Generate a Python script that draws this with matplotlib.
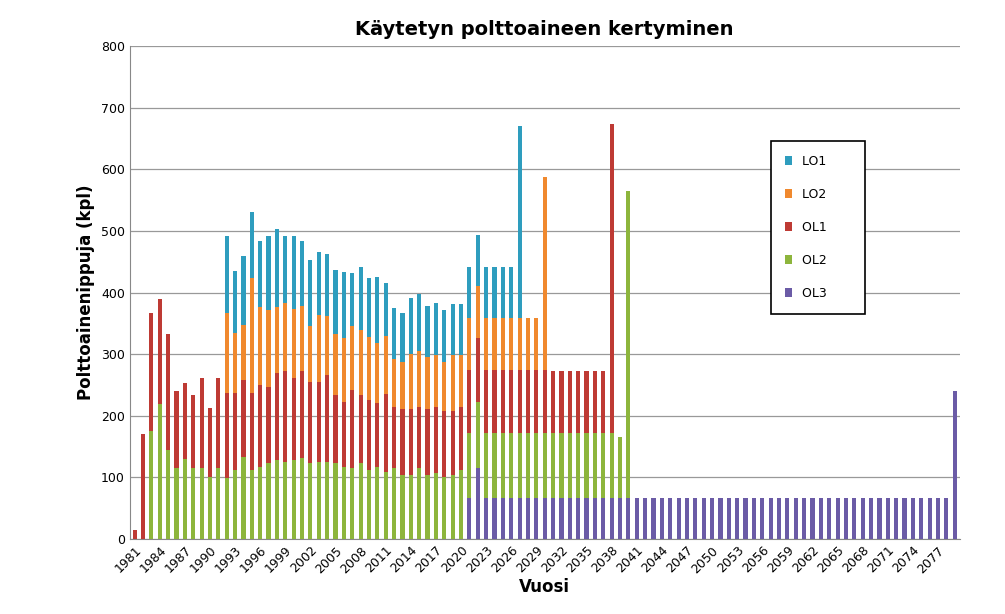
import matplotlib.pyplot as plt
import numpy as np

years = list(range(1981, 2080))

ol3 = [0]*40 + [66, 115] + [66]*56 + [240]
ol2 = [0, 0, 175, 220, 145, 115, 130, 115, 115, 100,
       115, 99, 112, 133, 112, 117, 123, 128, 125, 128,
       131, 123, 125, 125, 123, 117, 115, 123, 112, 117,
       109, 115, 104, 104, 115, 104, 107, 101, 104, 112,
       106, 108, 106, 106, 106, 106, 106, 106, 106, 106,
       106, 106, 106, 106, 106, 106, 106, 106, 100, 499] + [0]*39
ol1 = [15, 170, 192, 170, 188, 125, 123, 118, 147, 113,
       147, 138, 125, 125, 125, 133, 124, 141, 147, 133,
       141, 132, 130, 141, 111, 106, 127, 111, 114, 104,
       126, 100, 107, 107, 100, 107, 107, 107, 104, 102,
       102, 103, 102, 102, 102, 102, 102, 102, 102, 102,
       100, 100, 100, 100, 100, 100, 100, 502, 0, 0] + [0]*39
lo2 = [0]*11 + [130, 97, 89, 187, 127, 125, 108, 111, 112,
                106, 90, 108, 96, 99, 103, 104, 105, 102, 97,
                95, 77, 77, 89, 90, 85, 84, 79, 90, 84,
                84, 84, 84, 84, 84, 84, 84, 84, 84, 314] + [0]*49
lo1 = [0]*11 + [125, 101, 112, 106, 107, 120, 126, 108, 118,
                105, 108, 103, 101, 103, 108, 86, 103, 96, 107,
                85, 83, 79, 91, 93, 82, 85, 85, 84, 84,
                84, 83, 84, 84, 84, 84, 312, 0, 0, 0] + [0]*49

series = [("OL3", ol3, "#6B5BA6"), ("OL2", ol2, "#8DB53C"), ("OL1", ol1, "#BE3A34"),
          ("LO2", lo2, "#F0892E"), ("LO1", lo1, "#2E9DBE")]

fig = plt.figure(figsize=(10.05, 6.14), dpi=100)
ax = fig.add_axes([0.129, 0.122, 0.826, 0.803])
x = np.array(years)
bottom = np.zeros(len(years))
handles = {}
for name, vals, col in series:
    h = ax.bar(x, vals, 0.5, bottom=bottom, color=col, label=name, zorder=3)
    handles[name] = h
    bottom += np.array(vals)

ax.set_ylim(0, 800)
ax.set_yticks(range(0, 801, 100))
ax.set_xlim(1980.4, 2079.6)
ax.set_xticks(range(1981, 2080, 3))
ax.tick_params(axis="x", rotation=45, labelsize=9, length=0)
ax.tick_params(axis="y", labelsize=9, length=0)
for lbl in ax.get_xticklabels():
    lbl.set_ha("right")
    lbl.set_rotation_mode("anchor")
ax.grid(axis="y", color="#999999", lw=0.9, zorder=0)
for s in ["top", "right"]:
    ax.spines[s].set_visible(False)
ax.spines["left"].set_color("#888888")
ax.spines["bottom"].set_color("#888888")

ax.set_title("Käytetyn polttoaineen kertyminen", fontsize=14, fontweight="bold", pad=8)
ax.set_xlabel("Vuosi", fontsize=12, fontweight="bold", labelpad=2)
ax.set_ylabel("Polttoainenippuja (kpl)", fontsize=12, fontweight="bold")

order = ["LO1", "LO2", "OL1", "OL2", "OL3"]
leg = ax.legend([handles[n] for n in order], order, loc="upper left",
                bbox_to_anchor=(0.765, 0.82), fontsize=9, labelspacing=1.6,
                borderpad=1.1, handlelength=0.6, handleheight=0.8, handletextpad=0.8,
                fancybox=False, edgecolor="black", framealpha=1)
leg.get_frame().set_linewidth(1.2)
for t in leg.get_texts():
    t.set_text(t.get_text() + "      ")
leg.set_zorder(5)

fig.savefig("out.png", dpi=100)
